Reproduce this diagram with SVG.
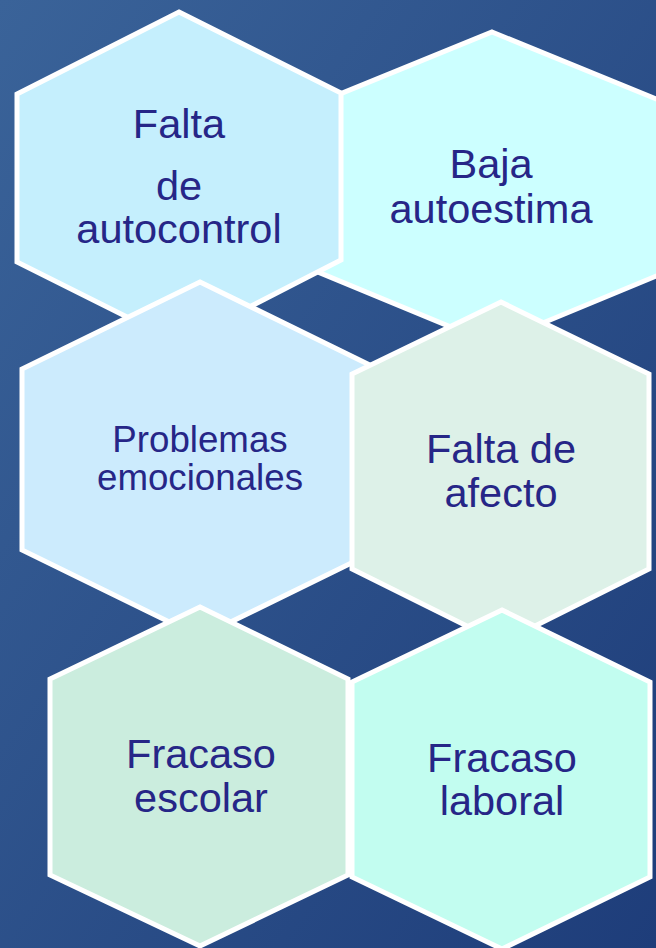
<svg xmlns="http://www.w3.org/2000/svg" width="656" height="948" viewBox="0 0 656 948">
<defs>
<linearGradient id="bg" x1="0" y1="0" x2="1" y2="1">
<stop offset="0" stop-color="#3A6399"/>
<stop offset="1" stop-color="#1E3D7A"/>
</linearGradient>
<style>
.hex{stroke:#FFFFFF;stroke-width:5;stroke-linejoin:miter}
.t{font-family:"Liberation Sans",Arial,sans-serif;font-size:41.5px;fill:#262687;text-anchor:middle}
.s{font-size:36.7px}
</style>
</defs>
<rect x="0" y="0" width="656" height="948" fill="url(#bg)"/>
<g id="baja-autoestima">
<polygon class="hex" fill="#CCFFFF" points="492,32 666,103 666,272 492,344 318,272 318,103"/>
<text class="t" x="491" y="178">Baja</text>
<text class="t" x="491" y="223">autoestima</text>
</g>
<g id="falta-autocontrol">
<polygon class="hex" fill="#C5EFFD" points="179,12 341,93 341,260 179,343 17,262 17,94"/>
<text class="t" x="179" y="138">Falta</text>
<text class="t" x="179" y="200">de</text>
<text class="t" x="179" y="243">autocontrol</text>
</g>
<g id="problemas-emocionales">
<polygon class="hex" fill="#CCEBFD" points="200,282 378,369 378,550 200,637 22,550 22,369"/>
<text class="t s" x="200" y="452">Problemas</text>
<text class="t s" x="200" y="490">emocionales</text>
</g>
<g id="falta-afecto">
<polygon class="hex" fill="#DDF1E8" points="501,302 649,374 649,569 501,643 352,569 352,374"/>
<text class="t" x="501" y="463">Falta de</text>
<text class="t" x="501" y="507">afecto</text>
</g>
<g id="fracaso-escolar">
<polygon class="hex" fill="#CBEDDE" points="200,607 348,679 348,875 200,946 50,875 50,679"/>
<text class="t" x="201" y="768">Fracaso</text>
<text class="t" x="201" y="812">escolar</text>
</g>
<g id="fracaso-laboral">
<polygon class="hex" fill="#C2FDF0" points="502,610 650,682 650,877 502,949 352,877 352,682"/>
<text class="t" x="502" y="772">Fracaso</text>
<text class="t" x="502" y="815">laboral</text>
</g>
<g id="connectors"></g>
</svg>
